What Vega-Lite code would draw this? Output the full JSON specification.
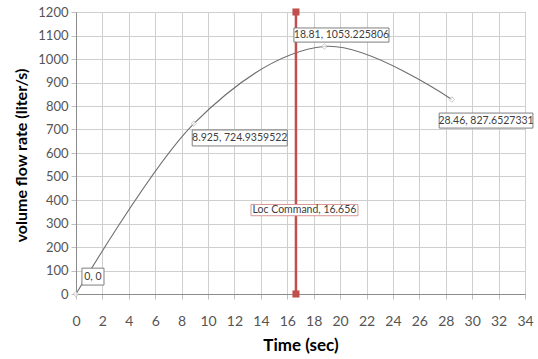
{
  "$schema": "https://vega.github.io/schema/vega-lite/v6.json",
  "width": 449,
  "height": 282,
  "autosize": "none",
  "padding": {"left": 76, "top": 12, "right": 13, "bottom": 65},
  "background": "white",
  "datasets": {
    "flow": [
      {"time": 0, "flow": 0},
      {"time": 8.925, "flow": 724.9359522},
      {"time": 18.81, "flow": 1053.225806},
      {"time": 28.46, "flow": 827.6527331}
    ],
    "cmd": [
      {"time": 16.656, "flow": 0},
      {"time": 16.656, "flow": 1200}
    ],
    "labels": [
      {"label": "0, 0", "time": 1.28, "flow": 74, "bx1": 0.45, "bx2": 2.12, "by1": 38, "by2": 110, "kind": "point"},
      {"label": "8.925, 724.9359522", "time": 12.4, "flow": 664, "bx1": 8.8, "bx2": 16.0, "by1": 630, "by2": 698, "kind": "point"},
      {"label": "18.81, 1053.225806", "time": 20.1, "flow": 1102, "bx1": 16.5, "bx2": 23.7, "by1": 1072, "by2": 1132, "kind": "point"},
      {"label": "28.46, 827.6527331", "time": 31.05, "flow": 738, "bx1": 27.5, "bx2": 34.6, "by1": 706, "by2": 770, "kind": "point"},
      {"label": "Loc Command, 16.656", "time": 17.3, "flow": 357, "bx1": 13.25, "bx2": 21.35, "by1": 333, "by2": 381, "kind": "cmd"}
    ]
  },
  "config": {
    "view": {"stroke": "#8c8c8c", "strokeWidth": 1},
    "font": "Lato",
    "axis": {
      "gridColor": "#cfcfcf",
      "gridWidth": 1,
      "domainColor": "#8c8c8c",
      "tickColor": "#bfbfbf",
      "tickSize": 5,
      "labelColor": "#555555",
      "labelFont": "Lato",
      "titleFont": "Lato",
      "titleFontWeight": "bold",
      "titleColor": "#000000",
      "labelOverlap": false,
      "labelFlush": false
    }
  },
  "encoding": {
    "x": {
      "field": "time", "type": "quantitative",
      "scale": {"domain": [0, 34], "nice": false, "zero": false},
      "axis": {"values": [0,2,4,6,8,10,12,14,16,18,20,22,24,26,28,30,32,34], "format": "d", "title": "Time (sec)", "labelFontSize": 14, "labelPadding": 15, "titleFontSize": 17, "titlePadding": 9}
    },
    "y": {
      "field": "flow", "type": "quantitative",
      "scale": {"domain": [0, 1200], "nice": false},
      "axis": {"values": [0,100,200,300,400,500,600,700,800,900,1000,1100,1200], "format": "d", "title": "volume flow rate  (liter/s)", "labelFontSize": 13, "labelPadding": 3, "titleFontSize": 16, "titleX": -47, "titleY": 143}
    }
  },
  "layer": [
    {
      "data": {"name": "flow"},
      "mark": {"type": "line", "interpolate": "cardinal", "color": "#6e6e6e", "strokeWidth": 1.1}
    },
    {
      "data": {"name": "flow"},
      "mark": {"type": "point", "shape": "diamond", "filled": true, "fill": "#ffffff", "stroke": "#b5b5b5", "strokeWidth": 1, "size": 30}
    },
    {
      "data": {"name": "cmd"},
      "mark": {"type": "line", "color": "#c0504d", "strokeWidth": 2.5}
    },
    {
      "data": {"name": "cmd"},
      "mark": {"type": "square", "filled": true, "color": "#c0504d", "size": 50, "opacity": 1}
    },
    {
      "data": {"name": "labels"},
      "mark": {"type": "rect", "fill": "#ffffff", "strokeWidth": 1},
      "encoding": {
        "x": {"field": "bx1", "type": "quantitative"},
        "x2": {"field": "bx2"},
        "y": {"field": "by1", "type": "quantitative"},
        "y2": {"field": "by2"},
        "stroke": {"field": "kind", "type": "nominal", "scale": {"domain": ["point", "cmd"], "range": ["#7f7f7f", "#d99694"]}, "legend": null}
      }
    },
    {
      "data": {"name": "labels"},
      "mark": {"type": "text", "fontSize": 10.5, "color": "#404040", "align": "center", "baseline": "middle"},
      "encoding": {
        "text": {"field": "label"}
      }
    }
  ]
}
